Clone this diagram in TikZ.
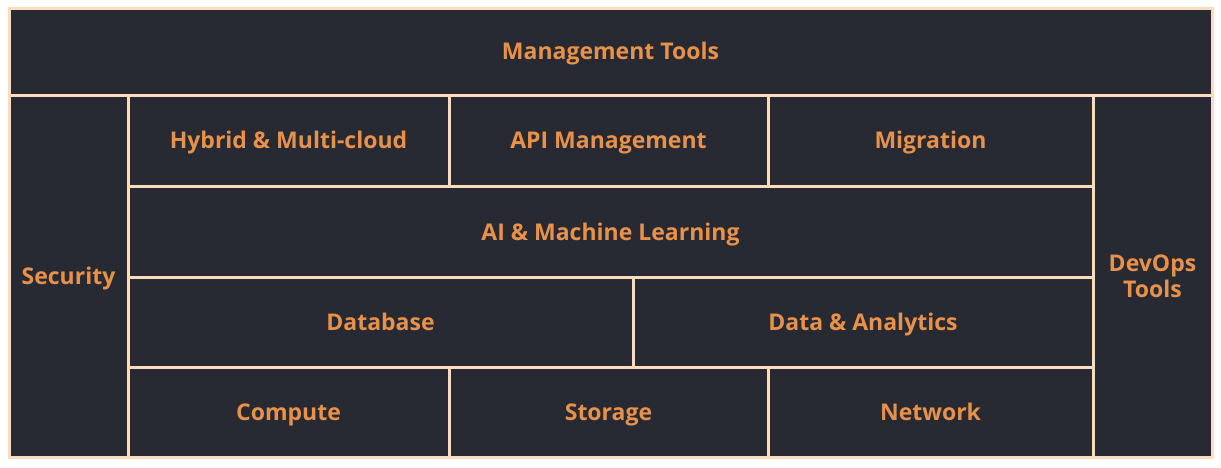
\documentclass[tikz,border=0pt]{standalone}
\usepackage{fontspec}
\setmainfont{Open Sans}
\definecolor{panel}{HTML}{272A33}
\definecolor{edge}{HTML}{FBDDBD}
\definecolor{label}{HTML}{E8914A}
\tikzset{
  cell/.style={draw=edge, fill=panel, line width=3pt},
  lblbase/.style={text=label, font=\fontsize{23}{26}\selectfont\bfseries, align=center, inner sep=0pt},
  lbl/.style={lblbase, text height=16pt, text depth=4pt}
}
\begin{document}
\begin{tikzpicture}[x=1pt,y=-1pt]
\useasboundingbox[fill=white] (0,0) rectangle (1221,468);
% cells
\draw[cell] (9,9) rectangle (1212,96);
\draw[cell] (9,96) rectangle (128,457);
\draw[cell] (1093,96) rectangle (1212,457);
\draw[cell] (128,96) rectangle (449,186);
\draw[cell] (449,96) rectangle (768,186);
\draw[cell] (768,96) rectangle (1093,186);
\draw[cell] (128,186) rectangle (1093,277);
\draw[cell] (128,277) rectangle (633,367);
\draw[cell] (633,277) rectangle (1093,367);
\draw[cell] (128,367) rectangle (449,457);
\draw[cell] (449,367) rectangle (768,457);
\draw[cell] (768,367) rectangle (1093,457);
% labels
\node[lbl] (mt) at (610.5,54) {Management Tools};
\node[lbl] (sec) at (68.5,278) {Security};
\node[lblbase] (dev) at (1152.5,276.5) {DevOps\\Tools};
\node[lbl] (hyb) at (288.5,143) {Hybrid \& Multi-cloud};
\node[lbl] (api) at (608.5,143) {API Management};
\node[lbl] (mig) at (930.5,143) {Migration};
\node[lbl] (ai) at (610.5,234) {AI \& Machine Learning};
\node[lbl] (db) at (380.5,324) {Database};
\node[lbl] (da) at (863,324) {Data \& Analytics};
\node[lbl] (cmp) at (288.5,414) {Compute};
\node[lbl] (sto) at (608.5,414) {Storage};
\node[lbl] (net) at (930.5,414) {Network};
\end{tikzpicture}
\end{document}
